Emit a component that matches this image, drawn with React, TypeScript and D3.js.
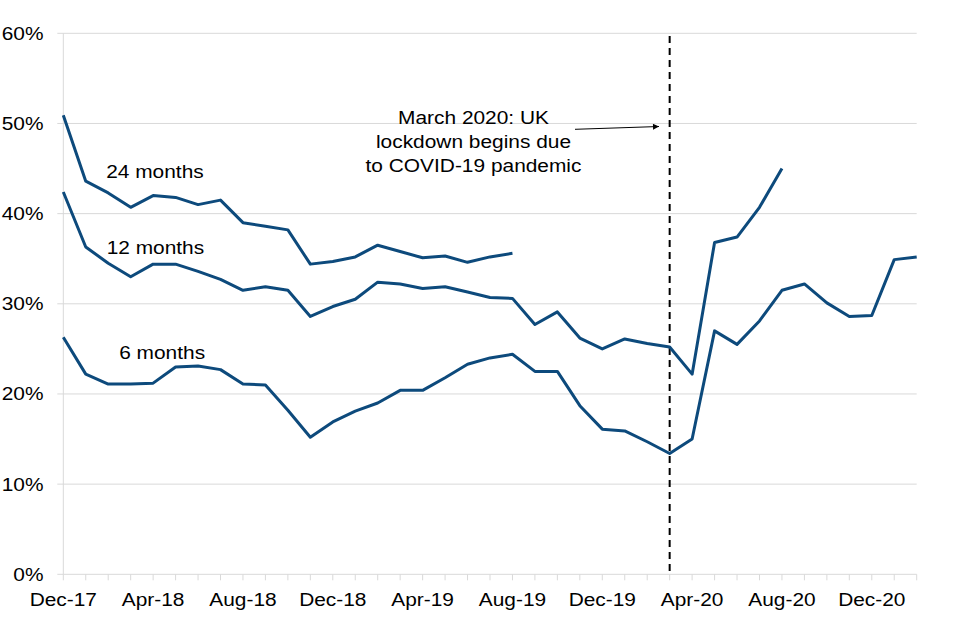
import React from "react";
import * as d3 from "d3";

const months = [
  "Dec-17","Jan-18","Feb-18","Mar-18","Apr-18","May-18","Jun-18","Jul-18","Aug-18","Sep-18","Oct-18","Nov-18",
  "Dec-18","Jan-19","Feb-19","Mar-19","Apr-19","May-19","Jun-19","Jul-19","Aug-19","Sep-19","Oct-19","Nov-19",
  "Dec-19","Jan-20","Feb-20","Mar-20","Apr-20","May-20","Jun-20","Jul-20","Aug-20","Sep-20","Oct-20","Nov-20",
  "Dec-20","Jan-21","Feb-21",
];
const tickLabelMonths = ["Dec-17","Apr-18","Aug-18","Dec-18","Apr-19","Aug-19","Dec-19","Apr-20","Aug-20","Dec-20"];

const twentyFourMonths = [
  50.9, 43.6, 42.3, 40.7, 42.0, 41.8, 41.0, 41.5, 39.0, 38.6, 38.2, 34.4,
  34.7, 35.2, 36.5, 35.8, 35.1, 35.3, 34.6, 35.2, 35.6,
];
const twelveMonths = [
  42.4, 36.3, 34.5, 33.0, 34.4, 34.4, 33.6, 32.7, 31.5, 31.9, 31.5, 28.6,
  29.7, 30.5, 32.4, 32.2, 31.7, 31.9, 31.3, 30.7, 30.6, 27.7, 29.1, 26.2,
  25.0, 26.1, 25.6, 25.2, 22.2, 36.8, 37.4, 40.7, 45.0,
];
const sixMonths = [
  26.3, 22.2, 21.1, 21.1, 21.2, 23.0, 23.1, 22.7, 21.1, 21.0, 18.2, 15.2,
  16.9, 18.1, 19.0, 20.4, 20.4, 21.8, 23.3, 24.0, 24.4, 22.5, 22.5, 18.7,
  16.1, 15.9, 14.7, 13.4, 15.0, 27.0, 25.5, 28.1, 31.5, 32.2, 30.1, 28.6,
  28.7, 34.9, 35.2,
];
const yTicks = [0, 10, 20, 30, 40, 50, 60];
const seriesLabels = ["24 months", "12 months", "6 months"];
const lockdownMonth = "Mar-20";
const annotationLines = ["March 2020: UK", "lockdown begins due", "to COVID-19 pandemic"];

const W = 960, H = 640;
const left = 63.3, right = 916.7, top = 33.3, bottom = 574.3;
const lineColor = "#0d4a7c";
const gridColor = "#d9d9d9";
const font = "'Liberation Sans', Arial, sans-serif";
const FS = 18.5;
const SX = 1.13;

function T({ x, y, anchor = "middle", children }: { x: number; y: number; anchor?: string; children: React.ReactNode }) {
  return (
    <text transform={`translate(${x},${y}) scale(${SX},1)`} dy="0.35em" textAnchor={anchor as any} fontSize={FS} fill="#000">
      {children}
    </text>
  );
}

export default function App() {
  const x = d3.scaleLinear().domain([0, months.length - 1]).range([left, right]);
  const y = d3.scaleLinear().domain([0, 60]).range([bottom, top]);
  const line = d3.line<number>().x((_, i) => x(i)).y((d) => y(d));
  const lockX = x(months.indexOf(lockdownMonth));

  const series = [twentyFourMonths, twelveMonths, sixMonths];
  const labelPos = [
    { i: 4.08, v: 44.65 },
    { i: 4.1, v: 36.2 },
    { i: 4.4, v: 24.6 },
  ];

  return (
    <svg width={W} height={H} style={{ position: "absolute", left: 0, top: 0, background: "#fff" }} fontFamily={font}>
      <defs>
        <marker id="arr" viewBox="0 0 10 10" refX="10" refY="5" markerWidth="8" markerHeight="6" orient="auto" markerUnits="userSpaceOnUse">
          <path d="M0,0 L10,5 L0,10 z" fill="#000" />
        </marker>
      </defs>
      {yTicks.map((t) => (
        <g key={t}>
          <line x1={left - 6} x2={right} y1={y(t)} y2={y(t)} stroke={gridColor} strokeWidth={1} />
          <T x={43.5} y={y(t)} anchor="end">{t}%</T>
        </g>
      ))}
      <line x1={left} x2={left} y1={top} y2={bottom} stroke={gridColor} strokeWidth={1} />
      {months.map((m, i) => (
        <line key={m} x1={x(i)} x2={x(i)} y1={bottom} y2={bottom + 6} stroke={gridColor} strokeWidth={1} />
      ))}
      {tickLabelMonths.map((m) => (
        <T key={m} x={x(months.indexOf(m))} y={600}>{m}</T>
      ))}
      <line x1={lockX} x2={lockX} y1={36} y2={bottom} stroke="#000" strokeWidth={2} strokeDasharray="7,5" />
      {series.map((s, k) => (
        <path key={k} d={line(s) || ""} fill="none" stroke={lineColor} strokeWidth={3} strokeLinejoin="round" />
      ))}
      {seriesLabels.map((lab, k) => (
        <T key={lab} x={x(labelPos[k].i)} y={y(labelPos[k].v)}>{lab}</T>
      ))}
      {annotationLines.map((t, k) => (
        <T key={t} x={473.5} y={117.3 + k * 24}>{t}</T>
      ))}
      <line x1={575} y1={129.3} x2={659} y2={126.5} stroke="#000" strokeWidth={1} markerEnd="url(#arr)" />
    </svg>
  );
}
